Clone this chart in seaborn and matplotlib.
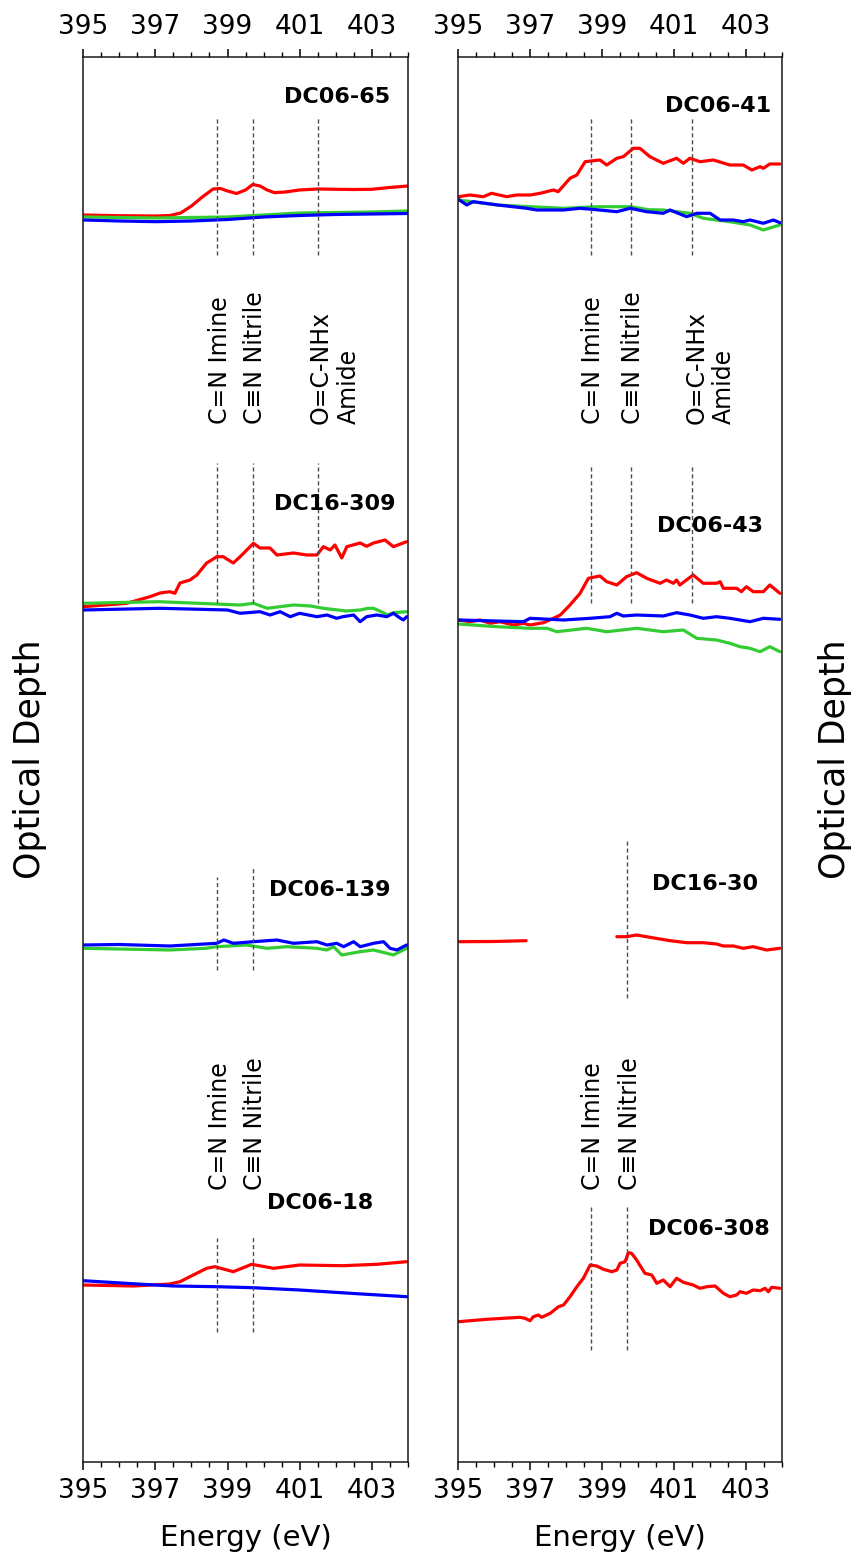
import numpy as np
import matplotlib
matplotlib.use('Agg')
import matplotlib.pyplot as plt
from matplotlib.ticker import MultipleLocator
import seaborn as sns

# energies (eV) and optical depth (a.u., relative to each sample's baseline)
# ---- left column ----
E65_RED = [395, 396, 397, 397.4, 397.7, 398, 398.3, 398.6, 398.8, 399, 399.25, 399.5, 399.7,
           399.9, 400.1, 400.3, 400.6, 401, 401.5, 402, 402.5, 403, 403.5, 404]
OD65_RED = [0, -0.7, -1, -0.5, 2, 9, 18, 26, 26.5, 24, 21.5, 25, 30.5,
            29, 25, 22.3, 23, 25, 26, 25.7, 25.5, 25.7, 27.5, 29]
E65_GREEN = [395, 397, 399, 400, 401, 402, 403, 404]
OD65_GREEN = [-2, -3, -2, 0, 2, 2.5, 3, 4]
E65_BLUE = [395, 396, 397, 398, 399, 400, 401, 402, 403, 404]
OD65_BLUE = [-5, -6, -6.7, -6, -4.5, -2, -0.5, 0.5, 1, 1.5]

E309_RED = [395.0, 396.2, 396.85, 397.13, 397.4, 397.54, 397.68, 397.96, 398.15, 398.42, 398.56,
            398.7, 398.88, 399.16, 399.35, 399.72, 399.9, 400.18, 400.37, 400.83, 401.2, 401.48,
            401.66, 401.85, 401.98, 402.17, 402.31, 402.68, 402.86, 403.05, 403.37, 403.6, 403.97]
OD309_RED = [0, 3.4, 10, 13.7, 15, 13.4, 23.7, 26.7, 31.7, 43.7, 46.7,
             50, 50, 43.7, 50, 63.4, 58.7, 58.7, 51.7, 53.7, 51.7, 51.7,
             60, 56.7, 61.7, 48.7, 60, 63.7, 60.4, 63.7, 66.7, 60, 65]
E309_GREEN = [395, 397.1, 399.35, 399.72, 400.1, 400.83, 401.3, 401.66, 402.3, 402.68, 402.9,
              403.05, 403.2, 403.45, 403.6, 403.97]
OD309_GREEN = [3.4, 5, 1.7, 3.4, -1.6, 1.7, 0.7, -1.6, -4.3, -3.3, -1.6,
               -1.6, -4, -8.3, -6, -5]
E309_BLUE = [395, 397.13, 399.0, 399.35, 399.9, 400.18, 400.46, 400.74, 401.0, 401.48, 401.76,
             402.03, 402.2, 402.5, 402.68, 402.86, 403.14, 403.42, 403.6, 403.8, 403.88, 403.97]
OD309_BLUE = [-3.3, -1.6, -3.3, -6.6, -5, -8.3, -5, -10, -6.6, -10, -8.3,
              -11.6, -10, -8.3, -15, -10, -8.3, -10, -6.6, -11.6, -13.3, -10]

E139_BLUE = [395, 396, 397.4, 398.7, 398.9, 399.16, 399.72, 400.37, 400.83, 401.48, 401.76, 402.03,
             402.22, 402.5, 402.68, 403.05, 403.33, 403.51, 403.7, 403.97]
OD139_BLUE = [0, 0.5, -1, 1.7, 5, 1.7, 3.3, 5, 1.7, 3.3, 0, 1.7,
              -1.7, 3.3, -1.7, 1.7, 3.3, -3.3, -5, 0]
E139_GREEN = [395, 397.4, 398.4, 398.7, 399.53, 400.09, 400.65, 401.48, 401.76, 401.94, 402.17,
              402.68, 403.05, 403.42, 403.6, 403.97]
OD139_GREEN = [-3.3, -5, -3.3, -1.7, 0, -3.3, -1.7, -3.3, -5, -1.7, -10,
               -6.7, -5, -8.3, -10, -3.3]

E18_RED = [395, 396.4, 397.4, 397.68, 398.05, 398.42, 398.65, 399.16, 399.67, 400.28, 401.0,
           402.2, 403.14, 403.97]
OD18_RED = [0, -1, 1, 3.3, 10, 16.7, 18.3, 13.3, 20.7, 16.7, 20, 19.3, 20.7, 23.3]
E18_BLUE = [395, 396.5, 397.5, 398.7, 399.7, 401.0, 402.5, 403.97]
OD18_BLUE = [4.3, 1, -1, -1.7, -2.7, -5, -8.5, -11.7]

# ---- right column ----
E41_RED = [395.02, 395.34, 395.71, 395.94, 396.36, 396.64, 397.01, 397.29, 397.66, 397.79, 398.12,
           398.31, 398.54, 398.95, 399.14, 399.42, 399.6, 399.88, 400.06, 400.34, 400.71, 401.08,
           401.27, 401.45, 401.73, 402.1, 402.56, 402.93, 403.17, 403.4, 403.49, 403.67, 403.95]
OD41_RED = [0, 1.7, 0, 3.4, 0, 1.7, 1.7, 3.4, 6.7, 5, 18.4,
            21.7, 35, 36.7, 31.7, 38.4, 40, 48.4, 48.4, 40, 33.4, 38.4,
            33.4, 38.4, 35, 36.7, 31.7, 31.7, 26.7, 30, 28.4, 32.7, 32.7]
E41_GREEN = [395.02, 396.11, 397.01, 397.94, 398.86, 399.8, 400.3, 400.71, 401.45, 401.82, 402.56,
             403.12, 403.49, 403.95]
OD41_GREEN = [-3.3, -8.3, -10, -11.6, -10, -10, -13, -13.3, -16.6, -21.6, -25,
              -28.3, -33.3, -28.3]
E41_BLUE = [395.02, 395.25, 395.43, 396.11, 396.92, 397.19, 397.94, 398.4, 398.93, 399.42, 399.79,
            400.25, 400.71, 400.9, 401.36, 401.64, 402.01, 402.29, 402.66, 402.93, 403.12, 403.49,
            403.77, 403.95]
OD41_BLUE = [-2.6, -8.3, -5, -8.3, -11.6, -13.3, -13.3, -11.6, -13.3, -15, -11.6,
             -15, -16.6, -13.3, -20, -16.6, -16.6, -23.3, -23.3, -25, -23.3, -26.6,
             -23.3, -26]

E43_RED = [395.02, 395.34, 395.62, 395.9, 396.17, 396.55, 396.83, 397.01, 397.38, 397.66, 397.85,
           398.12, 398.4, 398.63, 398.95, 399.14, 399.42, 399.69, 399.97, 400.25, 400.62, 400.8,
           400.99, 401.08, 401.17, 401.54, 401.82, 402.19, 402.29, 402.38, 402.75, 402.88, 403.02,
           403.21, 403.49, 403.67, 403.95]
OD43_RED = [0, -1.7, 0, -3.3, -1.7, -5, -3.3, -5, -2.7, 1.7, 5,
            15, 26.7, 41.7, 44, 38.3, 35, 43.3, 47.3, 41.7, 36.7, 40,
            36.7, 40, 35, 45, 36.7, 36.7, 38.3, 31.7, 31.7, 28.3, 33.3,
            28.3, 28.3, 35, 26.7]
E43_BLUE = [395.02, 396.83, 397.01, 397.94, 398.68, 399.23, 399.42, 399.6, 399.97, 400.71, 401.08,
            401.45, 401.82, 402.19, 402.56, 403.12, 403.49, 403.95]
OD43_BLUE = [0, -1.7, 1.7, 0, 1.7, 3.3, 6.7, 4, 5, 4, 7.3,
             5, 1.7, 3.3, 1.7, -1.7, 1.7, 0.7]
E43_GREEN = [395.02, 396.09, 397.01, 397.48, 397.75, 398.58, 399.14, 399.97, 400.71, 401.27, 401.64,
             402.19, 402.56, 402.84, 403.12, 403.4, 403.67, 403.95]
OD43_GREEN = [-4, -6.7, -8.3, -8.3, -11.7, -8.3, -11.7, -8.3, -11.7, -10, -18.3,
              -20, -23.3, -26.7, -28.3, -31.7, -26.7, -31.7]

# DC16-30 has a gap in the data between ~396.9 and ~399.4 eV
E30_RED_A = [395.02, 396.0, 396.9]
OD30_RED_A = [0, 0.2, 1]
E30_RED_B = [399.42, 399.69, 399.97, 400.34, 400.9, 401.36, 401.82, 402.19, 402.38, 402.66, 402.93,
             403.21, 403.58, 403.95]
OD30_RED_B = [5, 5, 6.7, 4.4, 1, -1, -1, -2.3, -4.3, -4.3, -6.6, -5, -8.3, -6.6]

E308_RED = [395.02, 395.81, 396.73, 396.87, 397.01, 397.1, 397.24, 397.33, 397.57, 397.8, 397.94,
            398.12, 398.31, 398.49, 398.68, 398.86, 399.05, 399.28, 399.42, 399.51, 399.65, 399.74,
            399.83, 399.97, 400.2, 400.39, 400.53, 400.71, 400.9, 401.08, 401.27, 401.54, 401.73,
            401.92, 402.15, 402.38, 402.56, 402.75, 402.84, 403.02, 403.21, 403.4, 403.54, 403.63,
            403.72, 403.95]
OD308_RED = [0, 2.4, 4.4, 3.4, 1, 5, 6.7, 4.4, 8.4, 15, 16.7,
             25, 35, 43.4, 56.7, 55.7, 52.4, 50, 51.7, 58.4, 60, 69,
             68.4, 61.7, 48.4, 46.7, 38.4, 41.7, 35, 43.4, 39.4, 36.7, 33.4,
             35, 35.7, 28.4, 25, 26.7, 30, 28.4, 31.7, 31, 33.4, 30,
             34.4, 33.4]

# vertical offsets of the stacked spectra (a.u.)
OFFSETS = {'DC06-65': 1246.7, 'DC16-309': 855.0, 'DC06-139': 516.7, 'DC06-18': 176.7,
           'DC06-41': 1265.0, 'DC06-43': 841.7, 'DC16-30': 520.0, 'DC06-308': 140.0}

RED, GREEN, BLUE = '#ff0000', '#33cc33', '#0000ff'

LEFT = [
    ('DC06-65', [(E65_RED, OD65_RED, RED), (E65_GREEN, OD65_GREEN, GREEN), (E65_BLUE, OD65_BLUE, BLUE)]),
    ('DC16-309', [(E309_RED, OD309_RED, RED), (E309_GREEN, OD309_GREEN, GREEN), (E309_BLUE, OD309_BLUE, BLUE)]),
    ('DC06-139', [(E139_GREEN, OD139_GREEN, GREEN), (E139_BLUE, OD139_BLUE, BLUE)]),
    ('DC06-18', [(E18_RED, OD18_RED, RED), (E18_BLUE, OD18_BLUE, BLUE)]),
]
RIGHT = [
    ('DC06-41', [(E41_RED, OD41_RED, RED), (E41_GREEN, OD41_GREEN, GREEN), (E41_BLUE, OD41_BLUE, BLUE)]),
    ('DC06-43', [(E43_RED, OD43_RED, RED), (E43_BLUE, OD43_BLUE, BLUE), (E43_GREEN, OD43_GREEN, GREEN)]),
    ('DC16-30', [(E30_RED_A, OD30_RED_A, RED), (E30_RED_B, OD30_RED_B, RED)]),
    ('DC06-308', [(E308_RED, OD308_RED, RED)]),
]

# sample name label: (right edge energy, height)
NAME_POS = {'DC06-65': (403.51, 1364.7), 'DC16-309': (403.65, 957.7), 'DC06-139': (403.51, 572.0),
            'DC06-18': (403.04, 259.2), 'DC06-41': (403.72, 1355.7), 'DC06-43': (403.48, 935.7),
            'DC16-30': (403.34, 577.7), 'DC06-308': (403.67, 232.7)}

# dashed marker lines: list of (energy, ymin, ymax)
MARKS = {
    'DC06-65': [(398.7, 1206.7, 1344.7), (399.7, 1206.7, 1344.7), (401.5, 1206.7, 1344.7)],
    'DC16-309': [(398.7, 858.7, 998.7), (399.7, 858.7, 998.7), (401.5, 858.7, 998.7)],
    'DC06-139': [(398.7, 491.7, 584.4), (399.7, 491.7, 593.4)],
    'DC06-18': [(398.7, 130, 223.4), (399.7, 130, 225.7)],
    'DC06-41': [(398.7, 1206.7, 1344.7), (399.8, 1206.7, 1344.7), (401.5, 1206.7, 1344.7)],
    'DC06-43': [(398.7, 858.4, 997.7), (399.8, 858.4, 997.7), (401.5, 858.4, 997.7)],
    'DC16-30': [(399.7, 463.7, 621.7)],
    'DC06-308': [(398.7, 111.7, 255.0), (399.7, 111.7, 255.0)],
}

# rotated assignment labels: (energy, bottom height, text)
LEFT_NOTES = [(398.79, 1037.7, 'C=N Imine'), (399.76, 1037.7, 'C\u2261N Nitrile'),
              (401.98, 1037.7, 'O=C-NHx\nAmide'),
              (398.79, 271.7, 'C=N Imine'), (399.76, 271.7, 'C\u2261N Nitrile')]
RIGHT_NOTES = [(398.77, 1037.7, 'C=N Imine'), (399.88, 1037.7, 'C\u2261N Nitrile'),
               (402.01, 1037.7, 'O=C-NHx\nAmide'),
               (398.77, 271.7, 'C=N Imine'), (399.79, 271.7, 'C\u2261N Nitrile')]

sns.set_theme(style='ticks')
plt.rcParams['font.family'] = ['DejaVu Sans']
plt.rcParams['text.color'] = 'black'
plt.rcParams['axes.labelcolor'] = 'black'
plt.rcParams['xtick.color'] = 'black'
plt.rcParams['xtick.labelcolor'] = 'black'

fig = plt.figure(figsize=(8.53, 15.66), dpi=100)
ax_l = fig.add_axes([0.0977, 0.0666, 0.3803, 0.8972])
ax_r = fig.add_axes([0.5366, 0.0666, 0.3798, 0.8972])


def draw_column(ax, samples, notes):
    for name, traces in samples:
        base = OFFSETS[name]
        for e, od, col in traces:
            sns.lineplot(x=e, y=np.asarray(od) + base, ax=ax, color=col, lw=2.3,
                         estimator=None, sort=False)
        for x, y0, y1 in MARKS[name]:
            ax.vlines(x, y0, y1, colors='0.3', linestyles=(0, (3, 2)), lw=1.0)
        tx, ty = NAME_POS[name]
        ax.text(tx, ty, name, ha='right', va='center', fontsize=16, fontweight='bold')
    for x, y, txt in notes:
        ax.text(x, y, txt, rotation=90, ha='center', va='bottom', fontsize=17,
                multialignment='left')

    ax.set_xlim(395, 404)
    ax.set_ylim(0, 1405)
    ax.set_xticks([395, 397, 399, 401, 403])
    ax.xaxis.set_minor_locator(MultipleLocator(0.5))
    ax.set_yticks([])
    ax.tick_params(axis='x', which='both', top=True, bottom=True, labeltop=True,
                   labelbottom=True, direction='out', labelsize=19, pad=6, color='black')
    ax.tick_params(axis='x', which='major', length=6, width=1.1)
    ax.tick_params(axis='x', which='minor', length=3.5, width=1.0)
    for sp in ax.spines.values():
        sp.set_visible(True)
        sp.set_linewidth(1.1)
        sp.set_color('0.1')
    ax.set_xlabel('Energy (eV)', fontsize=21)
    ax.xaxis.set_label_coords(0.5, -0.044)
    ax.xaxis.label.set_va('top')


draw_column(ax_l, LEFT, LEFT_NOTES)
draw_column(ax_r, RIGHT, RIGHT_NOTES)

ax_l.set_ylabel('Optical Depth', fontsize=25)
ax_l.yaxis.set_label_coords(-0.112, 0.5)
ax_r.yaxis.set_label_position('right')
ax_r.set_ylabel('Optical Depth', fontsize=25)
ax_r.yaxis.set_label_coords(1.112, 0.5)

fig.savefig('out.png', dpi=100)
